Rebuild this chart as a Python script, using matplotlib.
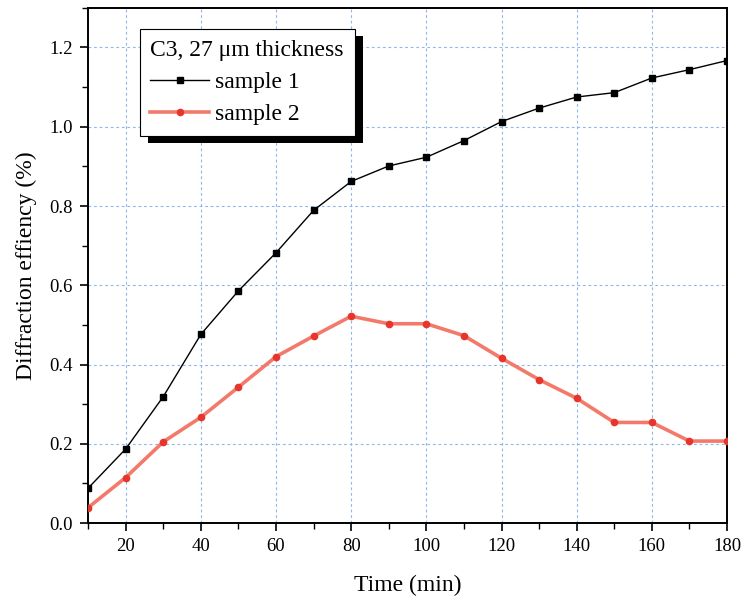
import matplotlib
matplotlib.use("Agg")
import matplotlib.pyplot as plt
from matplotlib.patches import Rectangle
from matplotlib.ticker import MultipleLocator

# 데이터
time_min = [10, 20, 30, 40, 50, 60, 70, 80, 90, 100,
            110, 120, 130, 140, 150, 160, 170, 180]
sample1 = [0.088, 0.187, 0.319, 0.476, 0.586, 0.682, 0.789, 0.862, 0.901, 0.923,
           0.965, 1.013, 1.047, 1.075, 1.086, 1.123, 1.144, 1.167]
sample2 = [0.039, 0.115, 0.205, 0.267, 0.343, 0.420, 0.472, 0.522, 0.503, 0.503,
           0.473, 0.416, 0.362, 0.315, 0.254, 0.254, 0.207, 0.207]

LEGEND_TITLE = "C3, 27 \u03bcm thickness"
LABELS = ["sample 1", "sample 2"]

plt.rcParams["font.family"] = ["Liberation Serif", "DejaVu Serif"]

fig = plt.figure(figsize=(7.43, 6.02), dpi=100)
ax = fig.add_axes([0.1185, 0.131, 0.86, 0.856])

ax.plot(time_min, sample1, "-s", color="black", lw=1.0, ms=4.5,
        label=LABELS[0], zorder=4)
ax.plot(time_min, sample2, "-", color="#f37a6a", lw=2.6,
        marker="o", ms=4.5, mfc="#e8352c", mec="#e8352c",
        label=LABELS[1], zorder=3)

ax.set_xlim(10, 180)
ax.set_ylim(0, 1.3)
ax.xaxis.set_major_locator(MultipleLocator(20))
ax.xaxis.set_minor_locator(MultipleLocator(10))
ax.yaxis.set_major_locator(MultipleLocator(0.2))
ax.yaxis.set_minor_locator(MultipleLocator(0.1))
ax.yaxis.set_major_formatter(lambda v, p: f"{v:.1f}")

ax.grid(True, which="major", color="#8fb8ea", ls=(0, (2.5, 2.5)), lw=0.8)
ax.tick_params(which="major", direction="out", length=6, width=1.2,
               labelsize=13.5, pad=5)
ax.tick_params(which="minor", direction="out", length=4, width=1.0)
for sp in ax.spines.values():
    sp.set_linewidth(1.4)

ax.set_xlabel("Time (min)", fontsize=17, labelpad=14)
ax.set_ylabel("Diffraction effiency (%)", fontsize=17, labelpad=9)

leg = ax.legend(title=LEGEND_TITLE, loc="upper left",
                bbox_to_anchor=(0.081, 0.958), fontsize=17, title_fontsize=17,
                fancybox=False, framealpha=1, edgecolor="black",
                borderpad=0.45, handlelength=2.5, handletextpad=0.25,
                labelspacing=0.45, borderaxespad=0)
leg.get_frame().set_linewidth(0.8)
leg._legend_box.align = "left"
leg.set_zorder(6)

# 검은 그림자 (오프셋 사각형)
fig.canvas.draw()
bb = leg.get_window_extent()
shadow = Rectangle((bb.x0 + 8, bb.y0 - 7), bb.width, bb.height,
                   transform=None, facecolor="black", edgecolor="none",
                   clip_on=False, zorder=5.5)
ax.add_artist(shadow)

fig.savefig("out.png", dpi=100)
